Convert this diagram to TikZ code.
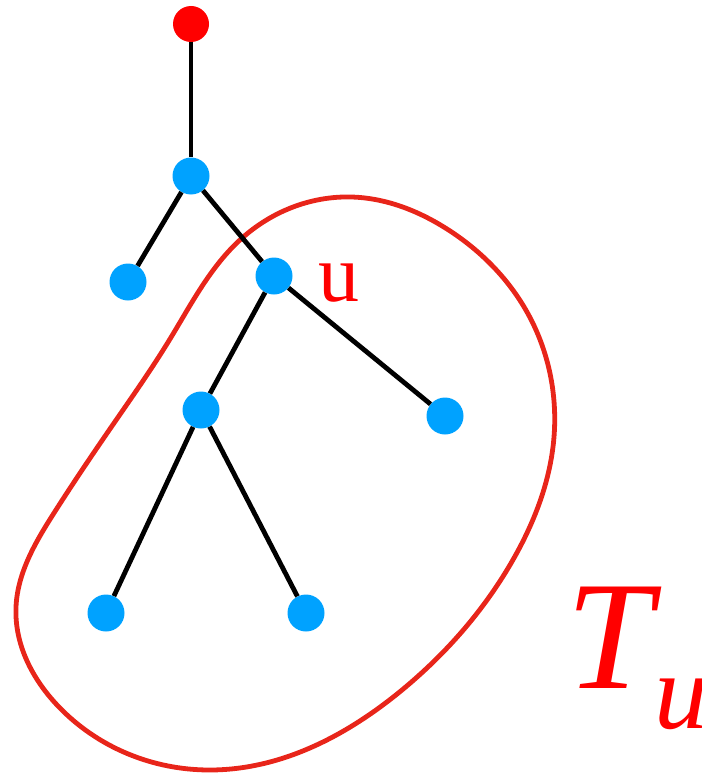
\documentclass[tikz,border=0pt]{standalone}
\usepackage{fontspec}
\setmainfont{Liberation Serif}
\usetikzlibrary{hobby}
\definecolor{nodeblue}{RGB}{0,162,255}
\definecolor{rootred}{RGB}{255,0,0}
\definecolor{curvered}{RGB}{232,37,26}
\tikzset{
  vtx/.style={circle,fill=nodeblue,minimum size=37pt,inner sep=0pt},
  rootvtx/.style={circle,fill=rootred,minimum size=36pt,inner sep=0pt},
  edge/.style={line width=4.8pt,black},
  lbl/.style={text=rootred,inner sep=0pt}
}
\begin{document}
\begin{tikzpicture}[x=1pt,y=-1pt]
\useasboundingbox (0,0) rectangle (701,773);
\draw[curvered,line width=4.8pt,use Hobby shortcut,closed=true]
  (351,197) .. (447,229) .. (527,312) .. (554,437) .. (514,558) .. (402,690) .. (210,770)
  .. (58,706) .. (16,607) .. (54,513) .. (112,426) .. (170,339) .. (241,239);
\node[rootvtx] (r) at (191,24) {};
\node[vtx] (a) at (191,176) {};
\node[vtx] (b) at (128,282) {};
\node[vtx] (u) at (274,276) {};
\node[vtx] (c) at (201,410) {};
\node[vtx] (d) at (445,416) {};
\node[vtx] (e) at (106,613) {};
\node[vtx] (f) at (306,613) {};
\draw[edge] (r) -- (a);
\draw[edge] (a) -- (b);
\draw[edge] (a) -- (u);
\draw[edge] (u) -- (c);
\draw[edge] (u) -- (d);
\draw[edge] (c) -- (e);
\draw[edge] (c) -- (f);
\node[lbl,anchor=base west,font=\fontsize{82}{82}\selectfont] (ul) at (318,301) {u};
\node[lbl,anchor=base west,font=\fontsize{155}{155}\selectfont\itshape] (T) at (566,688) {T};
\node[lbl,anchor=base west,font=\fontsize{108}{108}\selectfont\itshape] (Tu) at (654,728) {u};
\end{tikzpicture}
\end{document}
